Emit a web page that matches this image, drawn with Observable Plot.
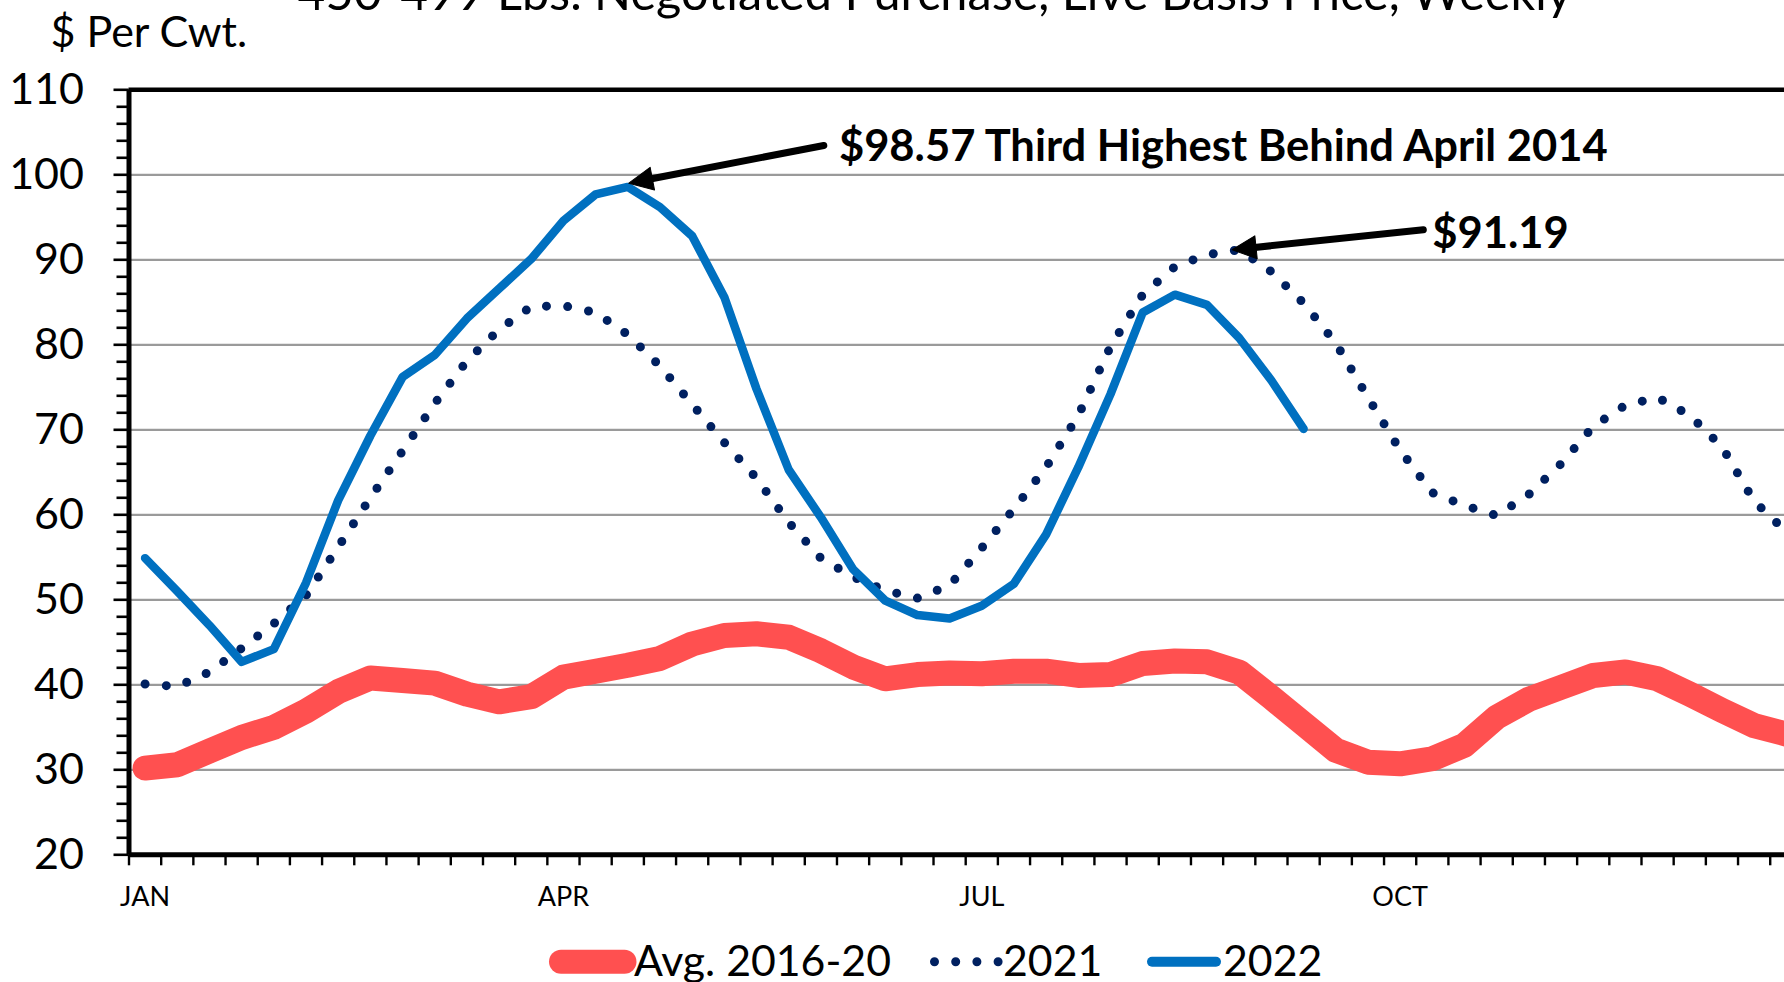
<!DOCTYPE html>
<html>
<head>
<meta charset="utf-8">
<script src="https://cdn.jsdelivr.net/npm/d3@7"></script>
<script src="https://cdn.jsdelivr.net/npm/@observablehq/plot@0.6"></script>
<style>
  html, body { margin: 0; padding: 0; background: #fff; overflow: hidden; }
  #wrap { position: relative; width: 1784px; height: 982px; overflow: hidden; }
  #chart { position: absolute; left: 0; top: 0; width: 1810px; }
  #chart svg { max-width: none !important; }
  #overlay { position: absolute; left: 0; top: 0; }
  text { font-family: Lato, "Open Sans", sans-serif; }
</style>
</head>
<body>
<div id="wrap">
  <div id="chart"></div>
  <svg id="overlay" width="1784" height="982"></svg>
</div>
<script>
// ---------- data ----------
const titleText = "450-499 Lbs. Negotiated Purchase, Live Basis Price, Weekly";
const yLabel = "$ Per Cwt.";
const seriesNames = ["Avg. 2016-20", "2021", "2022"];
const seriesColors = ["#FF5050", "#002060", "#0070C0"];

// weekly values, week 1..52
const avg2016_20 = [30.2, 30.6, 32.2, 33.8, 35.0, 36.9, 39.2, 40.8, 40.5, 40.2,
  38.9, 38.0, 38.6, 40.9, 41.6, 42.3, 43.1, 44.8, 45.8, 46.0,
  45.6, 44.0, 42.1, 40.7, 41.2, 41.4, 41.3, 41.6, 41.6, 41.1,
  41.2, 42.5, 42.8, 42.7, 41.5, 38.5, 35.4, 32.3, 30.9, 30.7,
  31.3, 32.9, 36.2, 38.3, 39.7, 41.1, 41.5, 40.7, 38.9, 37.0,
  35.2, 34.2];
const y2021 = [40.1, 39.8, 41.5, 44.3, 47.2, 50.5, 56.2, 62.0, 67.5, 73.1,
  78.1, 81.8, 84.5, 84.6, 83.8, 81.2, 77.5, 73.0, 68.5, 64.3,
  59.1, 54.9, 52.7, 51.1, 50.2, 51.7, 56.1, 60.7, 65.6, 71.7,
  79.8, 85.9, 89.2, 90.6, 91.19, 88.6, 84.9, 80.2, 73.8, 67.6,
  62.6, 61.1, 59.9, 62.4, 66.0, 70.4, 72.9, 73.8, 71.7, 68.0,
  61.6, 58.0];
const y2022 = [54.9, 51.0, 47.0, 42.7, 44.2, 52.0, 61.7, 69.3, 76.2, 78.8,
  83.1, 86.6, 90.1, 94.6, 97.7, 98.57, 96.2, 92.8, 85.6, 74.8,
  65.3, 59.7, 53.6, 49.9, 48.2, 47.8, 49.3, 51.9, 57.7, 65.6,
  74.2, 83.8, 85.9, 84.7, 80.8, 75.8, 70.1];

const monthLabels = ["JAN", "APR", "JUL", "OCT"];
const monthWeeks = [1, 14, 27, 40];
const majorTicks = [20, 30, 40, 50, 60, 70, 80, 90, 100, 110];
const minorTicks = d3.range(20, 111, 2).filter(v => v % 10 !== 0);
const gridTicks = [30, 40, 50, 60, 70, 80, 90, 100];
const weekEdges = d3.range(0.5, 53, 1);

// annotations (data coordinates: week, $/cwt)
const annoText = ["$98.57 Third Highest Behind April 2014", "$91.19"];
const annoX = [22.56, 41.0];
const annoY = [101.68, 91.33];
const arrowX1 = [22.09, 40.72];
const arrowY1 = [103.45, 93.53];
const arrowX2 = [16.03, 34.78];
const arrowY2 = [99.01, 91.18];

// ---------- layout ----------
const W = 1810, H = 930;
const ML = 128.5, MR = W - 1801.9, MT = 89.3, MB = H - 854.3;

const sx = Plot.scale({x: {domain: [0.5, 52.5], range: [ML, W - MR]}});
const sy = Plot.scale({y: {domain: [20, 110], range: [H - MB, MT]}});

const series = (arr) => arr.map((v, i) => ({week: i + 1, value: v}));
const annos = annoText.map((t, i) => ({text: t, x: annoX[i], y: annoY[i]}));
const arrows = arrowX1.map((_, i) => {
  const dx = sx.apply(arrowX2[i]) - sx.apply(arrowX1[i]);
  const dy = sy.apply(arrowY2[i]) - sy.apply(arrowY1[i]);
  return {x1: arrowX1[i], y1: arrowY1[i], x2: arrowX2[i], y2: arrowY2[i],
          angle: Math.atan2(dx, -dy) * 180 / Math.PI};
});
const headShape = {
  draw(context, l) {
    const w = 11.5;
    context.moveTo(0, -l);
    context.lineTo(w, 0);
    context.lineTo(-w, 0);
    context.closePath();
  }
};

const chart = Plot.plot({
  width: W, height: H,
  marginLeft: ML, marginRight: MR, marginTop: MT, marginBottom: MB,
  x: {domain: [0.5, 52.5]},
  y: {domain: [20, 110]},
  style: {fontFamily: "Lato, 'Open Sans', sans-serif", color: "black", background: "transparent",
          overflow: "visible", maxWidth: "none"},
  marks: [
    Plot.gridY(gridTicks, {stroke: "#9a9a9a", strokeOpacity: 1, strokeWidth: 2.2}),
    Plot.axisY(majorTicks, {tickSize: 15, tickPadding: 30, fontSize: 43, strokeWidth: 2.6, label: null}),
    Plot.axisY(minorTicks, {tickSize: 12, text: null, strokeWidth: 2.6, label: null}),
    Plot.axisX(weekEdges, {tickSize: 11, text: null, strokeWidth: 2.4, label: null}),
    Plot.axisX(monthWeeks, {tickSize: 0, tickPadding: 32, fontSize: 27,
      tickFormat: d => monthLabels[monthWeeks.indexOf(d)], label: null}),
    Plot.line(series(avg2016_20), {x: "week", y: "value", stroke: seriesColors[0], strokeWidth: 25,
      strokeLinejoin: "round", strokeLinecap: "round"}),
    Plot.line(series(y2021), {x: "week", y: "value", stroke: seriesColors[1], strokeWidth: 9,
      strokeDasharray: "0 21.3", strokeLinecap: "round", strokeLinejoin: "round"}),
    Plot.line(series(y2022), {x: "week", y: "value", stroke: seriesColors[2], strokeWidth: 8.5,
      strokeLinejoin: "round", strokeLinecap: "round"}),
    Plot.ruleX([0.5], {stroke: "black", strokeWidth: 5}),
    Plot.ruleY([20], {stroke: "black", strokeWidth: 5}),
    Plot.ruleY([110], {stroke: "black", strokeWidth: 4.6}),
    Plot.arrow(arrows, {x1: "x1", y1: "y1", x2: "x2", y2: "y2", stroke: "black", strokeWidth: 7,
      headLength: 0, insetEnd: 18}),
    Plot.vector(arrows, {x: "x2", y: "y2", rotate: "angle", length: 24, anchor: "end",
      shape: headShape, fill: "black", stroke: "black", strokeWidth: 1}),
    Plot.text(annos, {x: "x", y: "y", text: "text", textAnchor: "start", lineAnchor: "bottom",
      fontSize: 43.5, fontWeight: "bold", fill: "black"})
  ]
});
document.getElementById("chart").appendChild(chart);

// ---------- title, y label, legend (overlay) ----------
const ov = d3.select("#overlay");
ov.append("text").attr("x", 934.5).attr("y", 10).attr("text-anchor", "middle")
  .attr("font-size", 48.6).attr("fill", "black").text(titleText);
ov.append("text").attr("x", 50.5).attr("y", 46.5)
  .attr("font-size", 43).attr("fill", "black").text(yLabel);

const legY = 961.7, legBase = 976;
const legendItems = [
  {x1: 561, x2: 624.5, w: 24, dash: null, textX: 634},
  {x1: 934.5, x2: 999, w: 9, dash: "0 21.2", textX: 1003},
  {x1: 1152, x2: 1216, w: 10, dash: null, textX: 1223}
];
legendItems.forEach((it, i) => {
  const ln = ov.append("line").attr("x1", it.x1).attr("x2", it.x2).attr("y1", legY).attr("y2", legY)
    .attr("stroke", seriesColors[i]).attr("stroke-width", it.w).attr("stroke-linecap", "round");
  if (it.dash) ln.attr("stroke-dasharray", it.dash);
  ov.append("text").attr("x", it.textX).attr("y", legBase).attr("font-size", 42.8)
    .attr("fill", "black").text(seriesNames[i]);
});
</script>
</body>
</html>
